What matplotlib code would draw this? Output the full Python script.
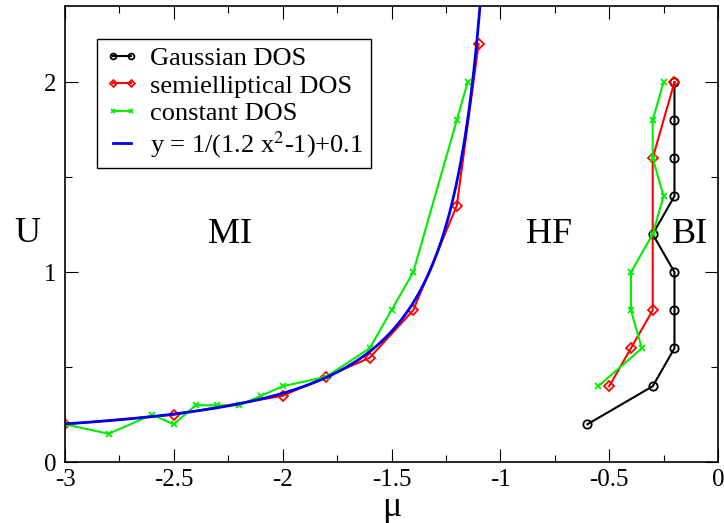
import numpy as np
import matplotlib
matplotlib.use("Agg")
import matplotlib.pyplot as plt
from matplotlib.ticker import MultipleLocator

plt.rcParams['font.family'] = ['Liberation Serif', 'DejaVu Serif']
plt.rcParams['axes.unicode_minus'] = False
plt.rcParams['mathtext.fontset'] = 'stix'

# Gaussian DOS (one branch)
gauss_mu = [-0.2, -0.2, -0.2, -0.2, -0.3, -0.2, -0.2, -0.2, -0.3, -0.6]
gauss_U = [2.0, 1.8, 1.6, 1.4, 1.2, 1.0, 0.8, 0.6, 0.4, 0.2]

# semielliptical DOS: MI branch and BI branch
semi_mu_left = [-3.0, -2.5, -2.0, -1.8, -1.6, -1.4, -1.2, -1.1]
semi_U_left = [0.2, 0.25, 0.35, 0.45, 0.55, 0.8, 1.35, 2.2]
semi_mu_right = [-0.2, -0.3, -0.3, -0.4, -0.5]
semi_U_right = [2.0, 1.6, 0.8, 0.6, 0.4]

# constant DOS: MI branch and BI branch
const_mu_left = [-3.0, -2.8, -2.6, -2.5, -2.4, -2.3, -2.2, -2.1, -2.0, -1.8,
                 -1.6, -1.5, -1.4, -1.2, -1.15]
const_U_left = [0.2, 0.15, 0.25, 0.2, 0.3, 0.3, 0.3, 0.35, 0.4, 0.45,
                0.6, 0.8, 1.0, 1.8, 2.0]
const_mu_right = [-0.25, -0.3, -0.3, -0.25, -0.3, -0.4, -0.4, -0.35, -0.55]
const_U_right = [2.0, 1.8, 1.6, 1.4, 1.2, 1.0, 0.8, 0.6, 0.4]

# fit curve from the legend: y = 1/(1.2 x^2 - 1) + 0.1
fit_mu = np.linspace(-3.0, -1.09, 400)
fit_U = 1.0 / (1.2 * fit_mu ** 2 - 1.0) + 0.1

region_labels = ["MI", "HF", "BI"]
region_mu = [-2.24, -0.777, -0.128]
region_U = [1.2, 1.2, 1.2]

fig = plt.figure(figsize=(7.24, 5.23), dpi=100)
ax = fig.add_axes([65 / 724, 1 - 462.3 / 523, (718 - 65) / 724, (462.3 - 6) / 523])

lw = 1.5
green = '#00ee00'
ax.plot(gauss_mu, gauss_U, color='black', lw=lw, marker='o', ms=6,
        mfc='none', mec='black', mew=1.3, label='Gaussian DOS')
ax.plot(semi_mu_left, semi_U_left, color='red', lw=lw, marker='D', ms=5,
        mfc='none', mec='red', mew=1.3, label='semielliptical DOS')
ax.plot(semi_mu_right, semi_U_right, color='red', lw=lw, marker='D', ms=5,
        mfc='none', mec='red', mew=1.3)
ax.plot(const_mu_left, const_U_left, color=green, lw=lw, marker='x', ms=5,
        mec=green, mew=1.3, label='constant DOS')
ax.plot(const_mu_right, const_U_right, color=green, lw=lw, marker='x', ms=5,
        mec=green, mew=1.3)
ax.plot(fit_mu, fit_U, color='#0000ee', lw=2.0,
        label=r'y = 1/(1.2 x$^{2}$-1)+0.1')

for t, x, y in zip(region_labels, region_mu, region_U):
    ax.text(x, y, t, fontsize=26, ha='center', va='center')

ax.set_xlim(-3, 0)
ax.set_ylim(0, 2.4)
ax.xaxis.set_major_locator(MultipleLocator(0.5))
ax.xaxis.set_minor_locator(MultipleLocator(0.25))
ax.yaxis.set_major_locator(MultipleLocator(1))
ax.yaxis.set_minor_locator(MultipleLocator(0.5))
ax.set_xticks([-3, -2.5, -2, -1.5, -1, -0.5, 0])
ax.set_xticklabels(['-3', '-2.5', '-2', '-1.5', '-1', '-0.5', '0'])
ax.set_yticks([0, 1, 2])
ax.set_yticklabels(['0', '1', '2'])

ax.tick_params(which='both', direction='in', top=True, right=True,
               labelsize=18, width=0.8)
ax.tick_params(which='major', length=9.5)
ax.tick_params(which='minor', length=4.7)
ax.tick_params(axis='x', which='major', pad=5)
ax.tick_params(axis='y', which='major', pad=6)
for s in ax.spines.values():
    s.set_linewidth(1.2)

ax.set_xlabel('μ', fontsize=26)
ax.xaxis.set_label_coords(0.5, -0.098)
ax.xaxis.label.set_va('center')
ax.set_ylabel('U', fontsize=26, rotation=0)
ax.yaxis.set_label_coords(-0.058, 0.502)
ax.yaxis.label.set_va('center')
ax.yaxis.label.set_ha('center')

leg = ax.legend(loc='upper left', bbox_to_anchor=(0.049, 0.928),
                borderaxespad=0, fontsize=19, frameon=True, fancybox=False,
                edgecolor='black', framealpha=1, numpoints=2,
                handlelength=1.3, handletextpad=0.4, labelspacing=0.15,
                borderpad=0.3, markerscale=0.7)
leg.get_frame().set_linewidth(1.0)

fig.savefig('out.png', dpi=100)
